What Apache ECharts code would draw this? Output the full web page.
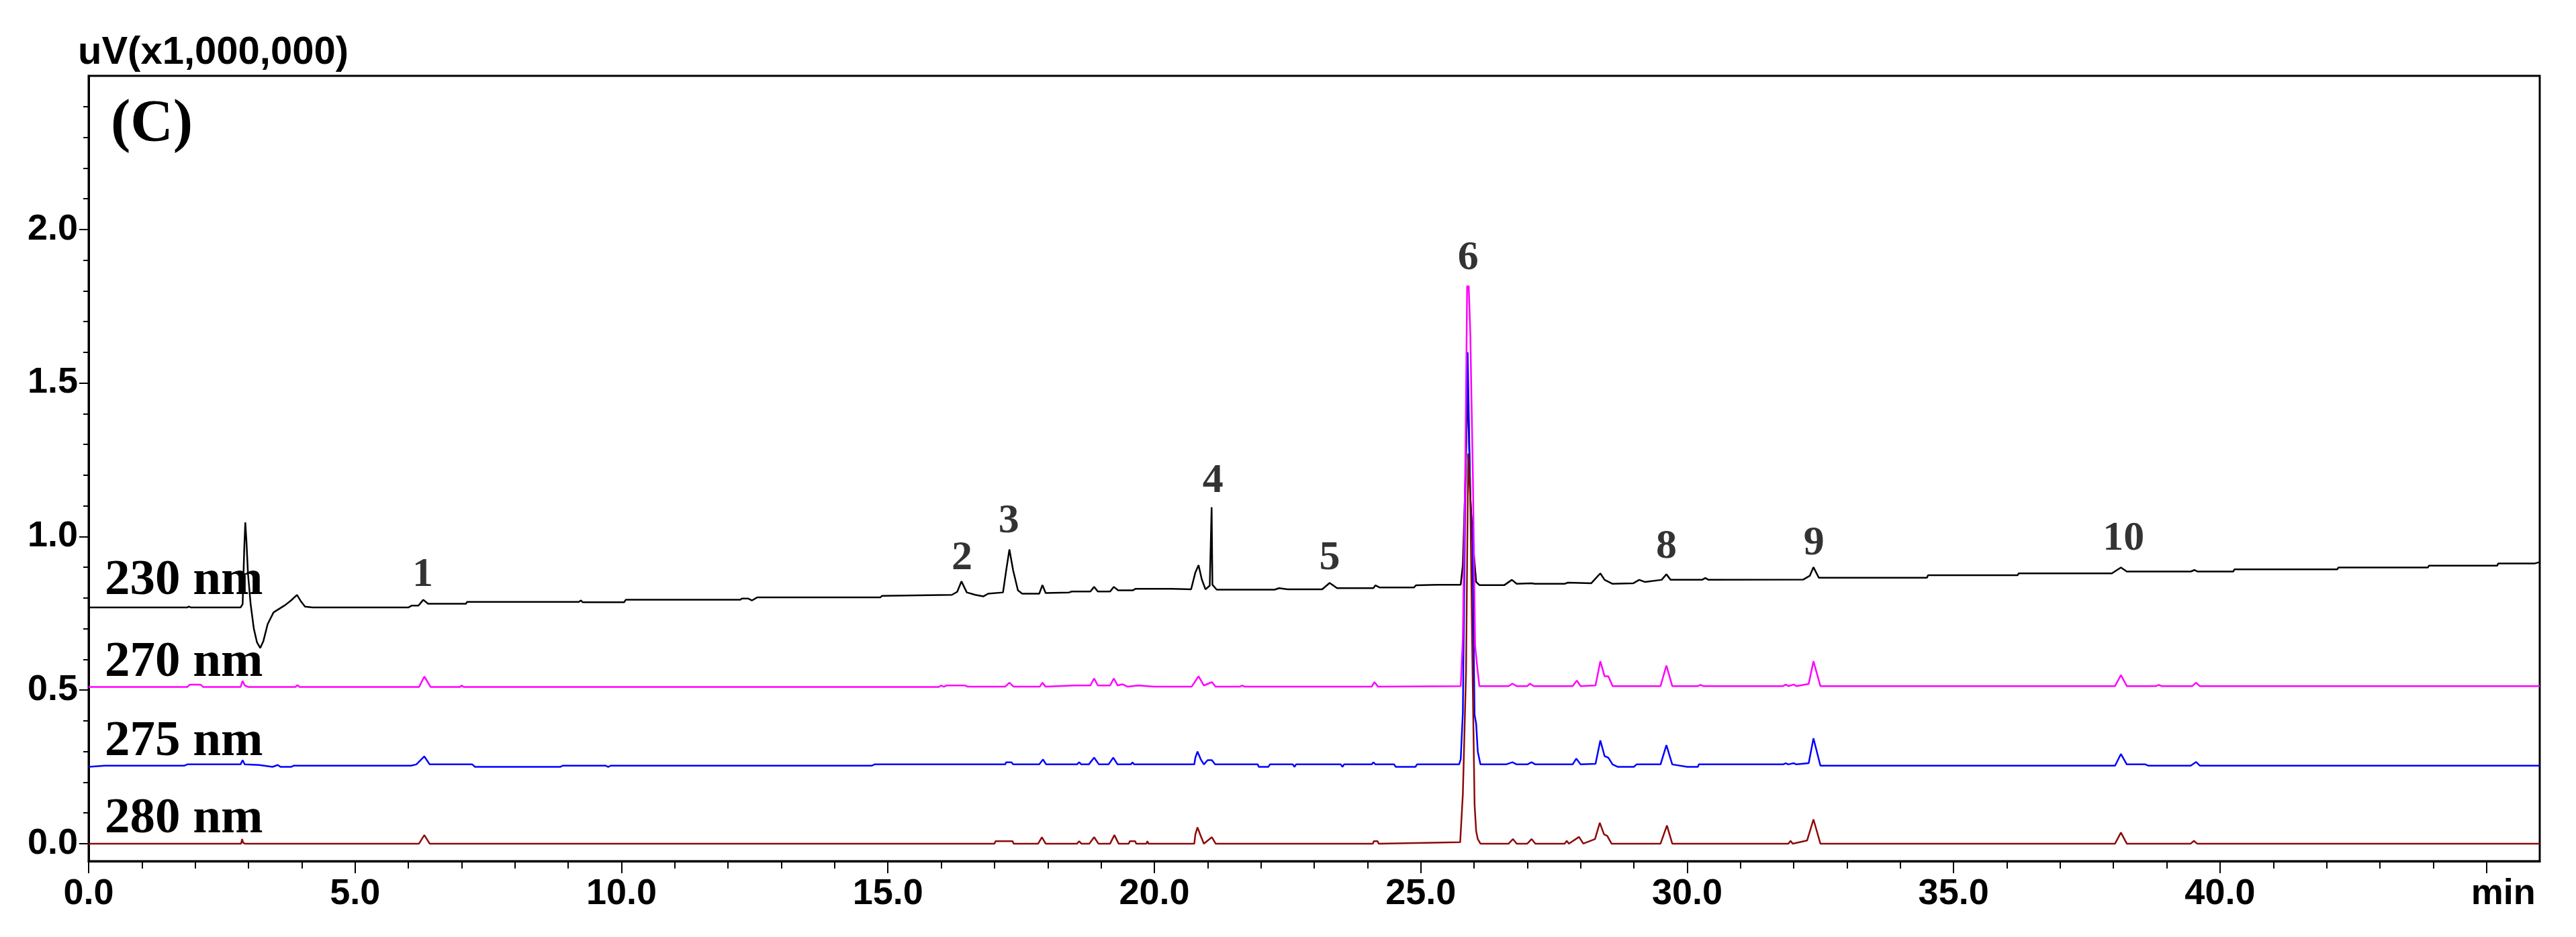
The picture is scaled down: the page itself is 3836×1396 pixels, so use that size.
<!DOCTYPE html>
<html>
<head>
<meta charset="utf-8">
<title>Chromatogram (C)</title>
<script src="https://cdn.jsdelivr.net/npm/echarts@6/dist/echarts.min.js"></script>
<style>
  html, body { margin: 0; padding: 0; background: #fff; }
  #chart { width: 3836px; height: 1396px; }
</style>
</head>
<body>
<div id="chart"></div>
<script>
// 色谱数据: [保留时间 min, 信号 uV(x1,000,000)]
var trace230 = [[0,0.769],[1.85,0.769],[1.88,0.772],[1.92,0.769],[2.85,0.769],[2.89,0.78],[2.92,0.96],[2.94,1.046],[2.96,0.99],[2.99,0.88],[3.04,0.78],[3.1,0.7],[3.16,0.655],[3.22,0.637],[3.28,0.66],[3.36,0.715],[3.47,0.753],[3.58,0.765],[3.69,0.777],[3.8,0.792],[3.91,0.81],[3.98,0.79],[4.06,0.772],[4.2,0.769],[6.0,0.769],[6.06,0.775],[6.19,0.775],[6.28,0.794],[6.37,0.781],[7.08,0.781],[7.1,0.787],[9.2,0.787],[9.24,0.792],[9.27,0.786],[10.05,0.786],[10.08,0.794],[12.23,0.794],[12.26,0.798],[12.38,0.798],[12.45,0.792],[12.55,0.802],[13.4,0.802],[13.42,0.806],[13.46,0.802],[14.86,0.802],[14.89,0.807],[16.2,0.81],[16.3,0.82],[16.38,0.854],[16.48,0.818],[16.64,0.81],[16.79,0.805],[16.88,0.814],[17.16,0.818],[17.22,0.89],[17.28,0.958],[17.35,0.89],[17.44,0.825],[17.52,0.814],[17.84,0.814],[17.9,0.842],[17.96,0.816],[18.4,0.818],[18.45,0.821],[18.8,0.821],[18.87,0.836],[18.94,0.821],[19.17,0.821],[19.24,0.836],[19.32,0.825],[19.6,0.825],[19.65,0.83],[20.33,0.83],[20.69,0.828],[20.77,0.883],[20.83,0.907],[20.89,0.861],[20.96,0.828],[21.04,0.84],[21.075,1.095],[21.09,0.843],[21.17,0.827],[22.26,0.827],[22.34,0.832],[22.5,0.828],[23.15,0.828],[23.29,0.849],[23.43,0.832],[24.11,0.832],[24.15,0.841],[24.23,0.834],[24.87,0.834],[24.91,0.841],[25.31,0.843],[25.75,0.843],[25.79,0.908],[25.84,1.2],[25.88,1.5],[25.93,1.13],[25.98,0.978],[26.04,0.852],[26.1,0.842],[26.57,0.842],[26.71,0.859],[26.8,0.846],[27.08,0.848],[27.14,0.846],[27.7,0.846],[27.76,0.85],[28.2,0.848],[28.31,0.869],[28.37,0.88],[28.45,0.859],[28.6,0.846],[28.99,0.848],[29.1,0.859],[29.21,0.852],[29.52,0.859],[29.61,0.877],[29.69,0.859],[30.28,0.859],[30.34,0.865],[30.4,0.859],[32.18,0.86],[32.3,0.872],[32.37,0.9],[32.47,0.866],[34.5,0.866],[34.52,0.874],[36.2,0.874],[36.22,0.88],[37.97,0.88],[38.14,0.899],[38.25,0.886],[39.45,0.886],[39.52,0.891],[39.58,0.886],[40.25,0.886],[40.27,0.893],[42.2,0.893],[42.22,0.899],[43.9,0.899],[43.92,0.905],[45.2,0.905],[45.22,0.912],[45.9,0.912],[46,0.917]];

var trace270 = [[0,0.51],[1.85,0.51],[1.9,0.518],[2.1,0.518],[2.15,0.51],[2.85,0.51],[2.89,0.53],[2.93,0.515],[3.0,0.51],[3.88,0.51],[3.92,0.516],[3.96,0.51],[6.2,0.51],[6.3,0.544],[6.42,0.51],[6.97,0.51],[7.0,0.515],[7.04,0.51],[15.95,0.51],[16.0,0.515],[16.05,0.511],[16.1,0.515],[16.45,0.515],[16.5,0.511],[17.2,0.511],[17.28,0.524],[17.36,0.511],[17.85,0.511],[17.9,0.524],[17.96,0.511],[18.5,0.515],[18.8,0.515],[18.87,0.538],[18.94,0.515],[19.17,0.515],[19.24,0.538],[19.31,0.515],[19.4,0.519],[19.5,0.511],[19.7,0.515],[20.0,0.511],[20.7,0.511],[20.83,0.545],[20.93,0.515],[21.08,0.526],[21.15,0.511],[21.6,0.511],[21.65,0.515],[21.7,0.511],[24.08,0.511],[24.13,0.526],[24.2,0.511],[25.75,0.513],[25.79,0.67],[25.84,1.29],[25.87,1.815],[25.9,1.815],[25.93,1.66],[25.98,1.18],[26.02,0.643],[26.07,0.559],[26.1,0.513],[26.65,0.513],[26.72,0.521],[26.8,0.513],[27.0,0.513],[27.05,0.521],[27.12,0.513],[27.85,0.513],[27.93,0.531],[28.0,0.513],[28.28,0.515],[28.37,0.594],[28.45,0.545],[28.52,0.545],[28.6,0.513],[29.5,0.513],[29.61,0.58],[29.72,0.513],[30.2,0.513],[30.25,0.517],[30.3,0.513],[31.8,0.513],[31.85,0.518],[31.9,0.513],[32.0,0.518],[32.05,0.513],[32.28,0.52],[32.37,0.594],[32.5,0.513],[38.03,0.513],[38.14,0.549],[38.25,0.513],[38.8,0.513],[38.85,0.517],[38.9,0.513],[39.48,0.513],[39.55,0.524],[39.62,0.513],[46,0.513]];

var trace275 = [[0,0.25],[0.3,0.254],[1.8,0.254],[1.85,0.258],[2.85,0.258],[2.89,0.272],[2.93,0.258],[3.2,0.256],[3.45,0.25],[3.55,0.256],[3.6,0.25],[3.8,0.25],[3.85,0.254],[6.05,0.254],[6.15,0.258],[6.3,0.284],[6.4,0.258],[7.2,0.258],[7.25,0.25],[8.85,0.25],[8.9,0.254],[9.7,0.254],[9.75,0.25],[9.8,0.254],[14.7,0.254],[14.75,0.258],[17.2,0.258],[17.22,0.265],[17.32,0.265],[17.35,0.258],[17.84,0.258],[17.91,0.274],[17.97,0.258],[18.55,0.258],[18.59,0.265],[18.63,0.258],[18.77,0.258],[18.87,0.28],[18.96,0.258],[19.14,0.258],[19.23,0.28],[19.31,0.258],[19.56,0.258],[19.59,0.265],[19.62,0.258],[20.75,0.258],[20.77,0.28],[20.81,0.3],[20.87,0.275],[20.93,0.258],[21.0,0.272],[21.08,0.272],[21.14,0.258],[21.94,0.258],[21.96,0.25],[22.14,0.25],[22.17,0.258],[22.6,0.258],[22.63,0.25],[22.66,0.258],[23.5,0.258],[23.53,0.25],[23.56,0.258],[24.08,0.258],[24.11,0.265],[24.15,0.258],[24.5,0.258],[24.53,0.25],[24.9,0.25],[24.93,0.258],[25.72,0.258],[25.75,0.275],[25.79,0.427],[25.84,1.2],[25.88,1.6],[25.93,1.13],[25.97,0.978],[26.01,0.42],[26.04,0.39],[26.07,0.3],[26.12,0.258],[26.6,0.258],[26.72,0.265],[26.8,0.258],[27.0,0.258],[27.08,0.265],[27.15,0.258],[27.85,0.258],[27.92,0.277],[28.0,0.258],[28.28,0.26],[28.37,0.336],[28.45,0.285],[28.52,0.28],[28.6,0.258],[28.7,0.25],[29.0,0.25],[29.05,0.258],[29.5,0.258],[29.61,0.321],[29.72,0.258],[30.0,0.25],[30.2,0.25],[30.22,0.258],[31.8,0.258],[31.85,0.262],[31.9,0.258],[32.0,0.262],[32.05,0.258],[32.28,0.262],[32.37,0.343],[32.5,0.254],[38.03,0.254],[38.14,0.292],[38.25,0.258],[38.6,0.258],[38.65,0.254],[39.45,0.254],[39.55,0.266],[39.62,0.254],[46,0.254]];

var trace280 = [[0,0],[2.86,0],[2.88,0.015],[2.9,0.003],[2.93,0],[6.2,0],[6.3,0.028],[6.4,0],[17.0,0],[17.02,0.008],[17.34,0.008],[17.36,0],[17.82,0],[17.89,0.021],[17.96,0],[18.55,0],[18.59,0.008],[18.63,0],[18.78,0],[18.87,0.021],[18.95,0],[19.17,0],[19.25,0.028],[19.33,0],[19.52,0],[19.54,0.008],[19.64,0.008],[19.66,0],[19.85,0],[19.87,0.008],[19.89,0],[20.75,0],[20.77,0.03],[20.81,0.053],[20.86,0.03],[20.93,0],[21.08,0.021],[21.15,0],[24.1,0],[24.12,0.008],[24.19,0.008],[24.21,0],[25.74,0.005],[25.79,0.161],[25.85,0.56],[25.89,1.27],[25.93,1.12],[25.97,0.586],[26.01,0.127],[26.04,0.04],[26.07,0.015],[26.12,0],[26.65,0],[26.73,0.015],[26.8,0],[27.0,0],[27.08,0.015],[27.15,0],[27.7,0],[27.74,0.009],[27.78,0],[27.97,0.022],[28.05,0],[28.27,0.015],[28.36,0.068],[28.44,0.03],[28.5,0.025],[28.58,0],[29.5,0],[29.62,0.059],[29.72,0],[31.9,0],[31.94,0.009],[31.98,0],[32.25,0.01],[32.37,0.079],[32.5,0],[38.03,0],[38.14,0.036],[38.25,0],[39.45,0],[39.51,0.009],[39.57,0],[46,0]];

// 峰号标注 (数据坐标)
var peakNames = ['1', '2', '3', '4', '5', '6', '8', '9', '10'];
var peakTimes = [6.27, 16.39, 17.27, 21.1, 23.29, 25.89, 29.61, 32.38, 38.19];
var peakLabelY = [0.875, 0.928, 1.048, 1.179, 0.928, 1.906, 0.965, 0.976, 0.993];

// 波长标签
var waveNames = ['230 nm', '270 nm', '275 nm', '280 nm'];

// 刻度
var xMajorTicks = [0, 5, 10, 15, 20, 25, 30, 35, 40, 45];
var yMajorTicks = [0, 0.5, 1.0, 1.5, 2.0];
var xMinorTicks = [];
for (var i = 0; i <= 45; i++) { xMinorTicks.push(i); }
var yMinorTicks = [0, 0.1, 0.2, 0.3, 0.4, 0.5, 0.6, 0.7, 0.8, 0.9, 1.0, 1.1, 1.2, 1.3, 1.4, 1.5, 1.6, 1.7, 1.8, 1.9, 2.0, 2.1, 2.2, 2.3, 2.4];

var sansFont = "'Liberation Sans', Arial, sans-serif";
var serifFont = "'Liberation Serif', 'Times New Roman', serif";

var X_MIN = 0, X_MAX = 46, Y_MIN = -0.057, Y_MAX = 2.5;

function lineSeries(name, data, color) {
    return {
        name: name,
        type: 'line',
        data: data,
        xAxisIndex: 0,
        yAxisIndex: 0,
        showSymbol: false,
        symbol: 'none',
        lineStyle: {color: color, width: 2.5},
        itemStyle: {color: color},
        silent: true
    };
}

// 波长标签位置 (像素, 文字中心)
var waveLabelCenters = [866, 988, 1106, 1221];
var graphics = [
    {type: 'text', left: 116, top: 50, style: {text: 'uV(x1,000,000)', font: 'bold 58px ' + sansFont, fill: '#000'}},
    {type: 'text', left: 165, top: 142, style: {text: '(C)', font: 'bold 88px ' + serifFont, fill: '#000'}}
];
waveNames.forEach(function (name, i) {
    graphics.push({type: 'text', left: 156, top: waveLabelCenters[i] - 38,
        style: {text: name, font: 'bold 75px ' + serifFont, fill: '#000'}});
});

var peakData = peakNames.map(function (n, i) {
    return {name: n, value: [peakTimes[i], peakLabelY[i]]};
});

var axisFont = {fontFamily: sansFont, fontSize: 54, fontWeight: 'bold', color: '#000'};

var option = {
    animation: false,
    backgroundColor: '#fff',
    grid: {
        left: 132, right: 54, top: 113, bottom: 113,
        show: true, borderColor: '#000', borderWidth: 3,
        containLabel: false, outerBoundsMode: 'none'
    },
    xAxis: [
        {
            type: 'value', min: X_MIN, max: X_MAX, position: 'bottom',
            axisLine: {show: true, onZero: false, lineStyle: {color: '#000', width: 3}},
            axisTick: {show: true, customValues: xMinorTicks, length: 11, lineStyle: {color: '#000', width: 2}},
            axisLabel: {show: false},
            splitLine: {show: false}
        },
        {
            type: 'value', min: X_MIN, max: X_MAX, position: 'bottom',
            axisLine: {show: false, onZero: false},
            axisTick: {show: true, customValues: xMajorTicks, length: 18, lineStyle: {color: '#000', width: 2}},
            axisLabel: Object.assign({
                show: true, customValues: xMajorTicks, margin: 22,
                formatter: function (v) { return v === 45 ? '{m|min}' : v.toFixed(1); },
                rich: {m: Object.assign({padding: [0, 0, 0, 50]}, axisFont)}
            }, axisFont),
            splitLine: {show: false}
        }
    ],
    yAxis: [
        {
            type: 'value', min: Y_MIN, max: Y_MAX, position: 'left',
            axisLine: {show: true, onZero: false, lineStyle: {color: '#000', width: 3}},
            axisTick: {show: true, customValues: yMinorTicks, length: 8, lineStyle: {color: '#000', width: 2}},
            axisLabel: {show: false},
            splitLine: {show: false}
        },
        {
            type: 'value', min: Y_MIN, max: Y_MAX, position: 'left',
            axisLine: {show: false, onZero: false},
            axisTick: {show: true, customValues: yMajorTicks, length: 14, lineStyle: {color: '#000', width: 2}},
            axisLabel: Object.assign({
                show: true, customValues: yMajorTicks, margin: 16,
                formatter: function (v) { return v.toFixed(1); }
            }, axisFont),
            splitLine: {show: false}
        }
    ],
    series: [
        lineSeries('230 nm', trace230, '#000000'),
        lineSeries('275 nm', trace275, '#0000ff'),
        lineSeries('270 nm', trace270, '#ff00ff'),
        lineSeries('280 nm', trace280, '#8b0a0a'),
        {
            type: 'scatter',
            data: peakData,
            xAxisIndex: 0,
            yAxisIndex: 0,
            symbolSize: 1,
            itemStyle: {color: 'rgba(0,0,0,0)'},
            silent: true,
            z: 10,
            label: {
                show: true, position: 'inside',
                formatter: function (p) { return p.name; },
                fontFamily: serifFont, fontSize: 62, fontWeight: 'bold', color: '#000'
            }
        }
    ],
    graphic: graphics
};

var myChart = echarts.init(document.getElementById('chart'));
myChart.setOption(option);
</script>
</body>
</html>
